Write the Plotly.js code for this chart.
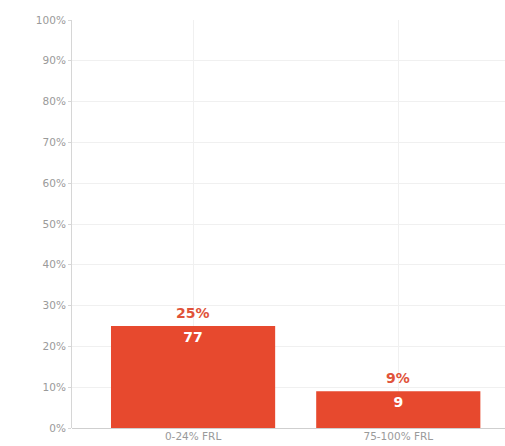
<!DOCTYPE html>
<html>
<head>
<meta charset="utf-8">
<script src="https://cdn.plot.ly/plotly-3.0.1.min.js"></script>
<style>html,body{margin:0;padding:0;background:#fff;}#chart{width:505px;height:446px;}</style>
</head>
<body>
<div id="chart"></div>
<script>
const categories = ["0-24% FRL", "75-100% FRL"];
const percentValues = [25, 9];
const counts = [77, 9];
const yTickValues = [0, 10, 20, 30, 40, 50, 60, 70, 80, 90, 100];
const yTickLabels = ["0%", "10%", "20%", "30%", "40%", "50%", "60%", "70%", "80%", "90%", "100%"];

const barColor = "#E7492E";
const font = "DejaVu Sans, sans-serif";

const traces = [
  {
    type: "bar",
    x: categories,
    y: percentValues,
    width: 0.8,
    marker: {color: barColor},
    text: counts.map(String),
    textposition: "inside",
    insidetextanchor: "end",
    textangle: 0,
    textfont: {family: font, size: 14, color: "#ffffff", weight: "bold"},
    hoverinfo: "none",
    showlegend: false
  }
];

const annotations = categories.map((c, i) => ({
  x: c,
  y: percentValues[i],
  text: percentValues[i] + "%",
  showarrow: false,
  yanchor: "bottom",
  yshift: 3,
  font: {family: font, size: 14, color: "#E0533A", weight: "bold"}
}));

const layout = {
  width: 505,
  height: 446,
  margin: {l: 72, r: 0, t: 20, b: 18},
  paper_bgcolor: "#ffffff",
  plot_bgcolor: "#ffffff",
  font: {family: font, size: 10, color: "#999999"},
  bargap: 0.2,
  annotations: annotations,
  xaxis: {
    type: "category",
    range: [-0.59, 1.52],
    showgrid: true,
    gridcolor: "#f0f0f0",
    showline: false,
    ticks: "",
    tickfont: {family: font, size: 10.5, color: "#9a9a9a"},
    zeroline: false,
    fixedrange: true
  },
  yaxis: {
    range: [0, 100],
    tickvals: yTickValues,
    ticktext: yTickLabels,
    showgrid: true,
    gridcolor: "#f0f0f0",
    showline: true,
    linecolor: "#d6d6d6",
    linewidth: 1,
    ticks: "outside",
    ticklen: 3,
    tickcolor: "#d6d6d6",
    tickfont: {family: font, size: 10.5, color: "#9a9a9a"},
    zeroline: true,
    zerolinecolor: "#cfcfcf",
    fixedrange: true
  }
};

Plotly.newPlot("chart", traces, layout, {displayModeBar: false, staticPlot: true});
</script>
</body>
</html>
